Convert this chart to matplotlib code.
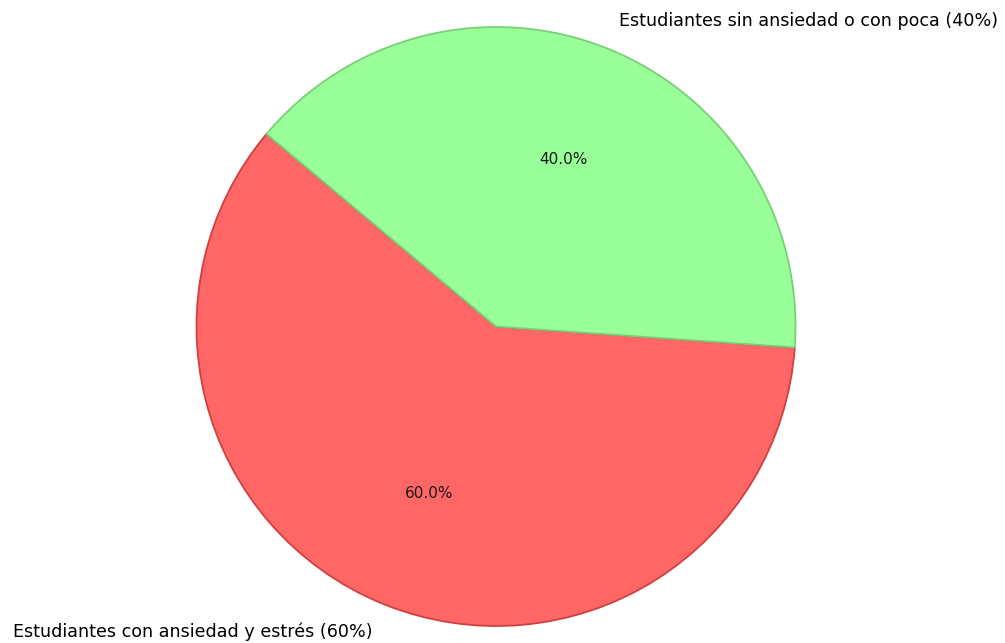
import matplotlib
matplotlib.use("Agg")
import matplotlib.pyplot as plt

labels = ["Estudiantes con ansiedad y estrés (60%)",
          "Estudiantes sin ansiedad o con poca (40%)"]
values = [60, 40]
colors = ["#ff6666", "#99ff99"]
edge_colors = ["#d04040", "#78d078"]

fig = plt.figure(figsize=(10.05, 6.43), dpi=100)
ax = fig.add_axes([0, 0, 1, 1])

wedges, texts, autotexts = ax.pie(
    values,
    labels=labels,
    colors=colors,
    autopct="%1.1f%%",
    startangle=140,
    radius=1.0,
    textprops={"fontsize": 12.6},
    wedgeprops={"linewidth": 1.3},
)
for w, ec in zip(wedges, edge_colors):
    w.set_edgecolor(ec)
for t in autotexts:
    t.set_fontsize(11)
    t.set_color("#1a1a1a")

cx, cy, r = 496, 326.5, 299.5
W, H = 1005, 643
ax.set_xlim(-cx / r, (W - cx) / r)
ax.set_ylim(-(H - cy) / r, cy / r)
ax.set_aspect("auto")
ax.axis("off")

fig.savefig("out.png", dpi=100, facecolor="white")
